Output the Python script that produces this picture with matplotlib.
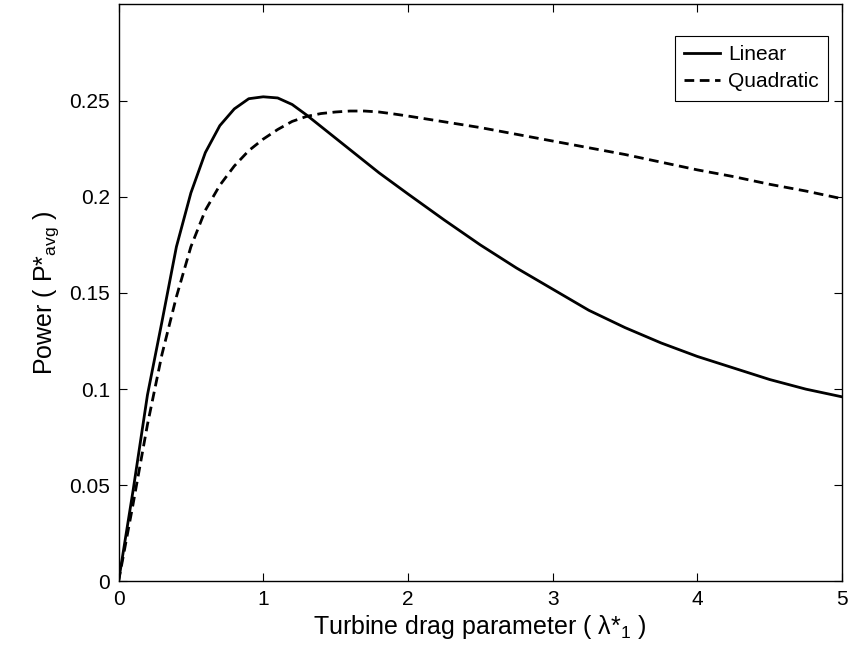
import matplotlib
matplotlib.use("Agg")
import matplotlib.pyplot as plt

# drag parameter values (lambda*_1)
x_vals = [0.0, 0.1, 0.2, 0.3, 0.4, 0.5, 0.6, 0.7, 0.8, 0.9, 1.0, 1.1, 1.2, 1.3,
          1.4, 1.5, 1.6, 1.7, 1.8, 1.9, 2.0, 2.25, 2.5, 2.75, 3.0, 3.25, 3.5,
          3.75, 4.0, 4.25, 4.5, 4.75, 5.0]

# average power, linear drag model
linear = [0.0, 0.047, 0.097, 0.135, 0.174, 0.202, 0.223, 0.237, 0.2457, 0.251,
          0.252, 0.2514, 0.248, 0.2425, 0.2365, 0.2305, 0.2245, 0.2185, 0.2125,
          0.207, 0.2015, 0.188, 0.175, 0.163, 0.152, 0.141, 0.132, 0.124, 0.117,
          0.111, 0.105, 0.100, 0.096]

# average power, quadratic drag model
quadratic = [0.0, 0.040, 0.0816, 0.118, 0.148, 0.174, 0.193, 0.206, 0.216, 0.224,
             0.230, 0.235, 0.2392, 0.2418, 0.2433, 0.2441, 0.2446, 0.2446, 0.2441,
             0.2431, 0.242, 0.239, 0.236, 0.2325, 0.229, 0.2255, 0.222, 0.218,
             0.214, 0.2105, 0.2065, 0.203, 0.199]

plt.rcParams['font.family'] = ['Liberation Sans', 'DejaVu Sans']
plt.rcParams['mathtext.fontset'] = 'custom'
plt.rcParams['mathtext.rm'] = 'Liberation Sans'

fig = plt.figure(figsize=(8.49, 6.58), dpi=100)
ax = fig.add_axes([0.1396, 0.1163, 0.8522, 0.8769])

ax.plot(x_vals, linear, color='black', lw=2.0, label='Linear')
ax.plot(x_vals, quadratic, color='black', lw=2.0, ls=(0, (3.5, 2)), label='Quadratic')

ax.set_xlim(0, 5)
ax.set_ylim(0, 0.3)
ax.set_xticks([0, 1, 2, 3, 4, 5])
ax.set_yticks([0, 0.05, 0.1, 0.15, 0.2, 0.25])
ax.set_yticklabels(['0', '0.05', '0.1', '0.15', '0.2', '0.25'])
ax.tick_params(direction='in', top=True, right=True, length=6, width=0.8, pad=6,
               labelsize=15)
for s in ax.spines.values():
    s.set_linewidth(1.0)

ax.set_xlabel(r'Turbine drag parameter ( λ*$_{\mathregular{1}}$ )', fontsize=18, labelpad=3)
ax.set_ylabel(r'Power ( P*$_{\mathregular{avg}}$ )', fontsize=18, labelpad=6)

leg = ax.legend(loc='upper right', bbox_to_anchor=(0.9807, 0.946), borderaxespad=0,
                fancybox=False, framealpha=1, edgecolor='black', fontsize=15,
                handlelength=1.7, handletextpad=0.4, borderpad=0.45,
                labelspacing=0.4)
leg.get_frame().set_linewidth(0.8)

fig.savefig('out.png', dpi=100)
